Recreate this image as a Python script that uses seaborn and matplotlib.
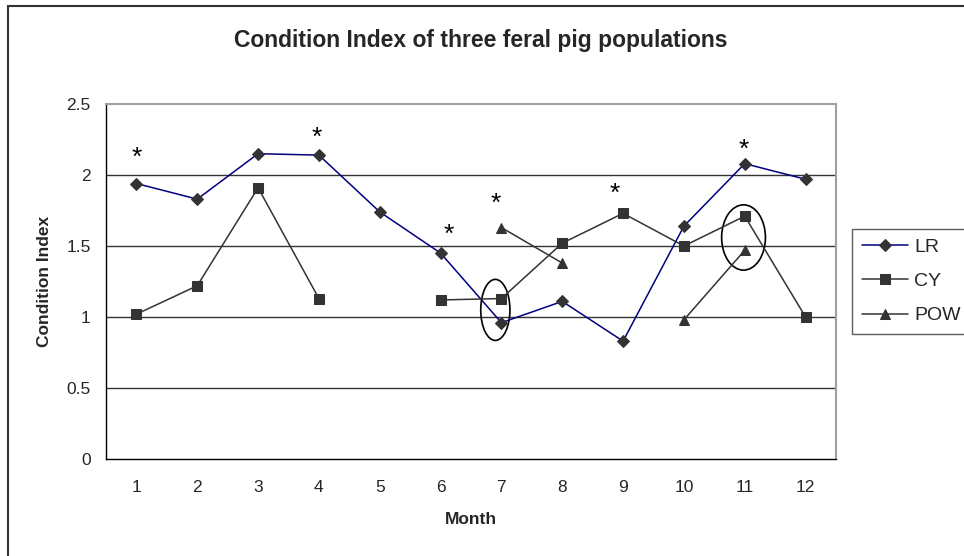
import numpy as np
import pandas as pd
import seaborn as sns
import matplotlib.pyplot as plt
from matplotlib.patches import Ellipse, Rectangle

months = list(range(1, 13))
lr = [1.94, 1.83, 2.15, 2.14, 1.74, 1.45, 0.96, 1.11, 0.83, 1.64, 2.08, 1.97]
cy = [1.02, 1.22, 1.91, 1.13, np.nan, 1.12, 1.13, 1.52, 1.73, 1.50, 1.71, 1.00]
pow_ = [np.nan, np.nan, np.nan, np.nan, np.nan, np.nan, 1.63, 1.38, np.nan, 0.98, 1.47, np.nan]

# significance stars (x, y) and circled points (x, y, width, height)
stars_x = [1.0, 3.96, 6.13, 6.9, 8.86, 10.99]
stars_y = [2.12, 2.26, 1.58, 1.80, 1.87, 2.18]
circles = [(6.9, 1.05, 0.48, 0.43), (10.98, 1.56, 0.72, 0.46)]


def to_long(name, values):
    df = pd.DataFrame({'Month': months, 'value': values, 'series': name})
    # break the line where a month is missing
    df['segment'] = df['value'].isna().cumsum()
    return df.dropna()


data = pd.concat([to_long('LR', lr), to_long('CY', cy), to_long('POW', pow_)],
                 ignore_index=True)

sns.set_style('white')
plt.rcParams['font.family'] = ['Liberation Sans', 'DejaVu Sans']

fig = plt.figure(figsize=(9.64, 5.56), dpi=100)
ax = fig.add_axes([106 / 964, 1 - 459 / 556, 730 / 964, 355 / 556])

styles = {
    'LR': dict(color='#000080', marker='D', markersize=6.5),
    'CY': dict(color='#333333', marker='s', markersize=6.5),
    'POW': dict(color='#333333', marker='^', markersize=7.5),
}
for name, st in styles.items():
    sub = data[data['series'] == name]
    sns.lineplot(data=sub, x='Month', y='value', units='segment', estimator=None,
                 ax=ax, color=st['color'], marker=st['marker'], markersize=st['markersize'],
                 markerfacecolor='#333333', markeredgecolor='#333333', linewidth=1.1,
                 label=name)

for x, y in zip(stars_x, stars_y):
    ax.text(x, y, '*', ha='center', va='center', fontsize=19, color='black')

for x, y, w, h in circles:
    ax.add_patch(Ellipse((x, y), w, h, fill=False, edgecolor='black', linewidth=1.2))

ax.set_xlim(0.5, 12.5)
ax.set_ylim(0, 2.5)
ax.set_yticks([0, 0.5, 1, 1.5, 2, 2.5])
ax.set_yticklabels(['0', '0.5', '1', '1.5', '2', '2.5'], fontsize=12.5)
ax.set_xticks(np.arange(0.5, 13, 1))
ax.set_xticklabels([])
ax.set_xticks(months, minor=True)
ax.set_xticklabels([str(m) for m in months], minor=True, fontsize=12.5)
ax.tick_params(axis='x', which='major', direction='out', length=6, width=1, color='black')
ax.tick_params(axis='x', which='minor', length=0, pad=15)
ax.tick_params(axis='y', direction='out', length=6, width=1, color='black', pad=5)

for y in [0.5, 1, 1.5, 2]:
    ax.axhline(y, color='#333333', linewidth=1, zorder=0)

for side in ['top', 'right']:
    ax.spines[side].set_color('#a0a0a0')
    ax.spines[side].set_linewidth(1.5)
for side in ['left', 'bottom']:
    ax.spines[side].set_color('black')
    ax.spines[side].set_linewidth(1)

ax.set_xlabel('Month', fontsize=12.5, fontweight='bold', labelpad=12)
ax.set_ylabel('Condition Index', fontsize=12.5, fontweight='bold', labelpad=10)
fig.text(481 / 964, 1 - 40 / 556, 'Condition Index of three feral pig populations',
         ha='center', va='center', fontsize=16.5, fontweight='bold')

# one legend entry per series (segments share a label)
handles, labels = ax.get_legend_handles_labels()
uniq = dict(zip(labels, handles))
leg = ax.legend(uniq.values(), uniq.keys(), loc='center left',
                bbox_to_anchor=(746 / 730, 0.5),
                frameon=True, fontsize=14, fancybox=False, borderaxespad=0,
                handlelength=2.4, handletextpad=0.3, labelspacing=0.85, borderpad=0.5)
leg.get_frame().set_edgecolor('#333333')
leg.get_frame().set_linewidth(1)

# chart area border
fig.patches.append(Rectangle((8 / 964, -0.1), 1.2, 1 - 6 / 556 + 0.1, transform=fig.transFigure,
                             fill=False, edgecolor='#333333', linewidth=1.5))

fig.savefig('out.png', dpi=100)
